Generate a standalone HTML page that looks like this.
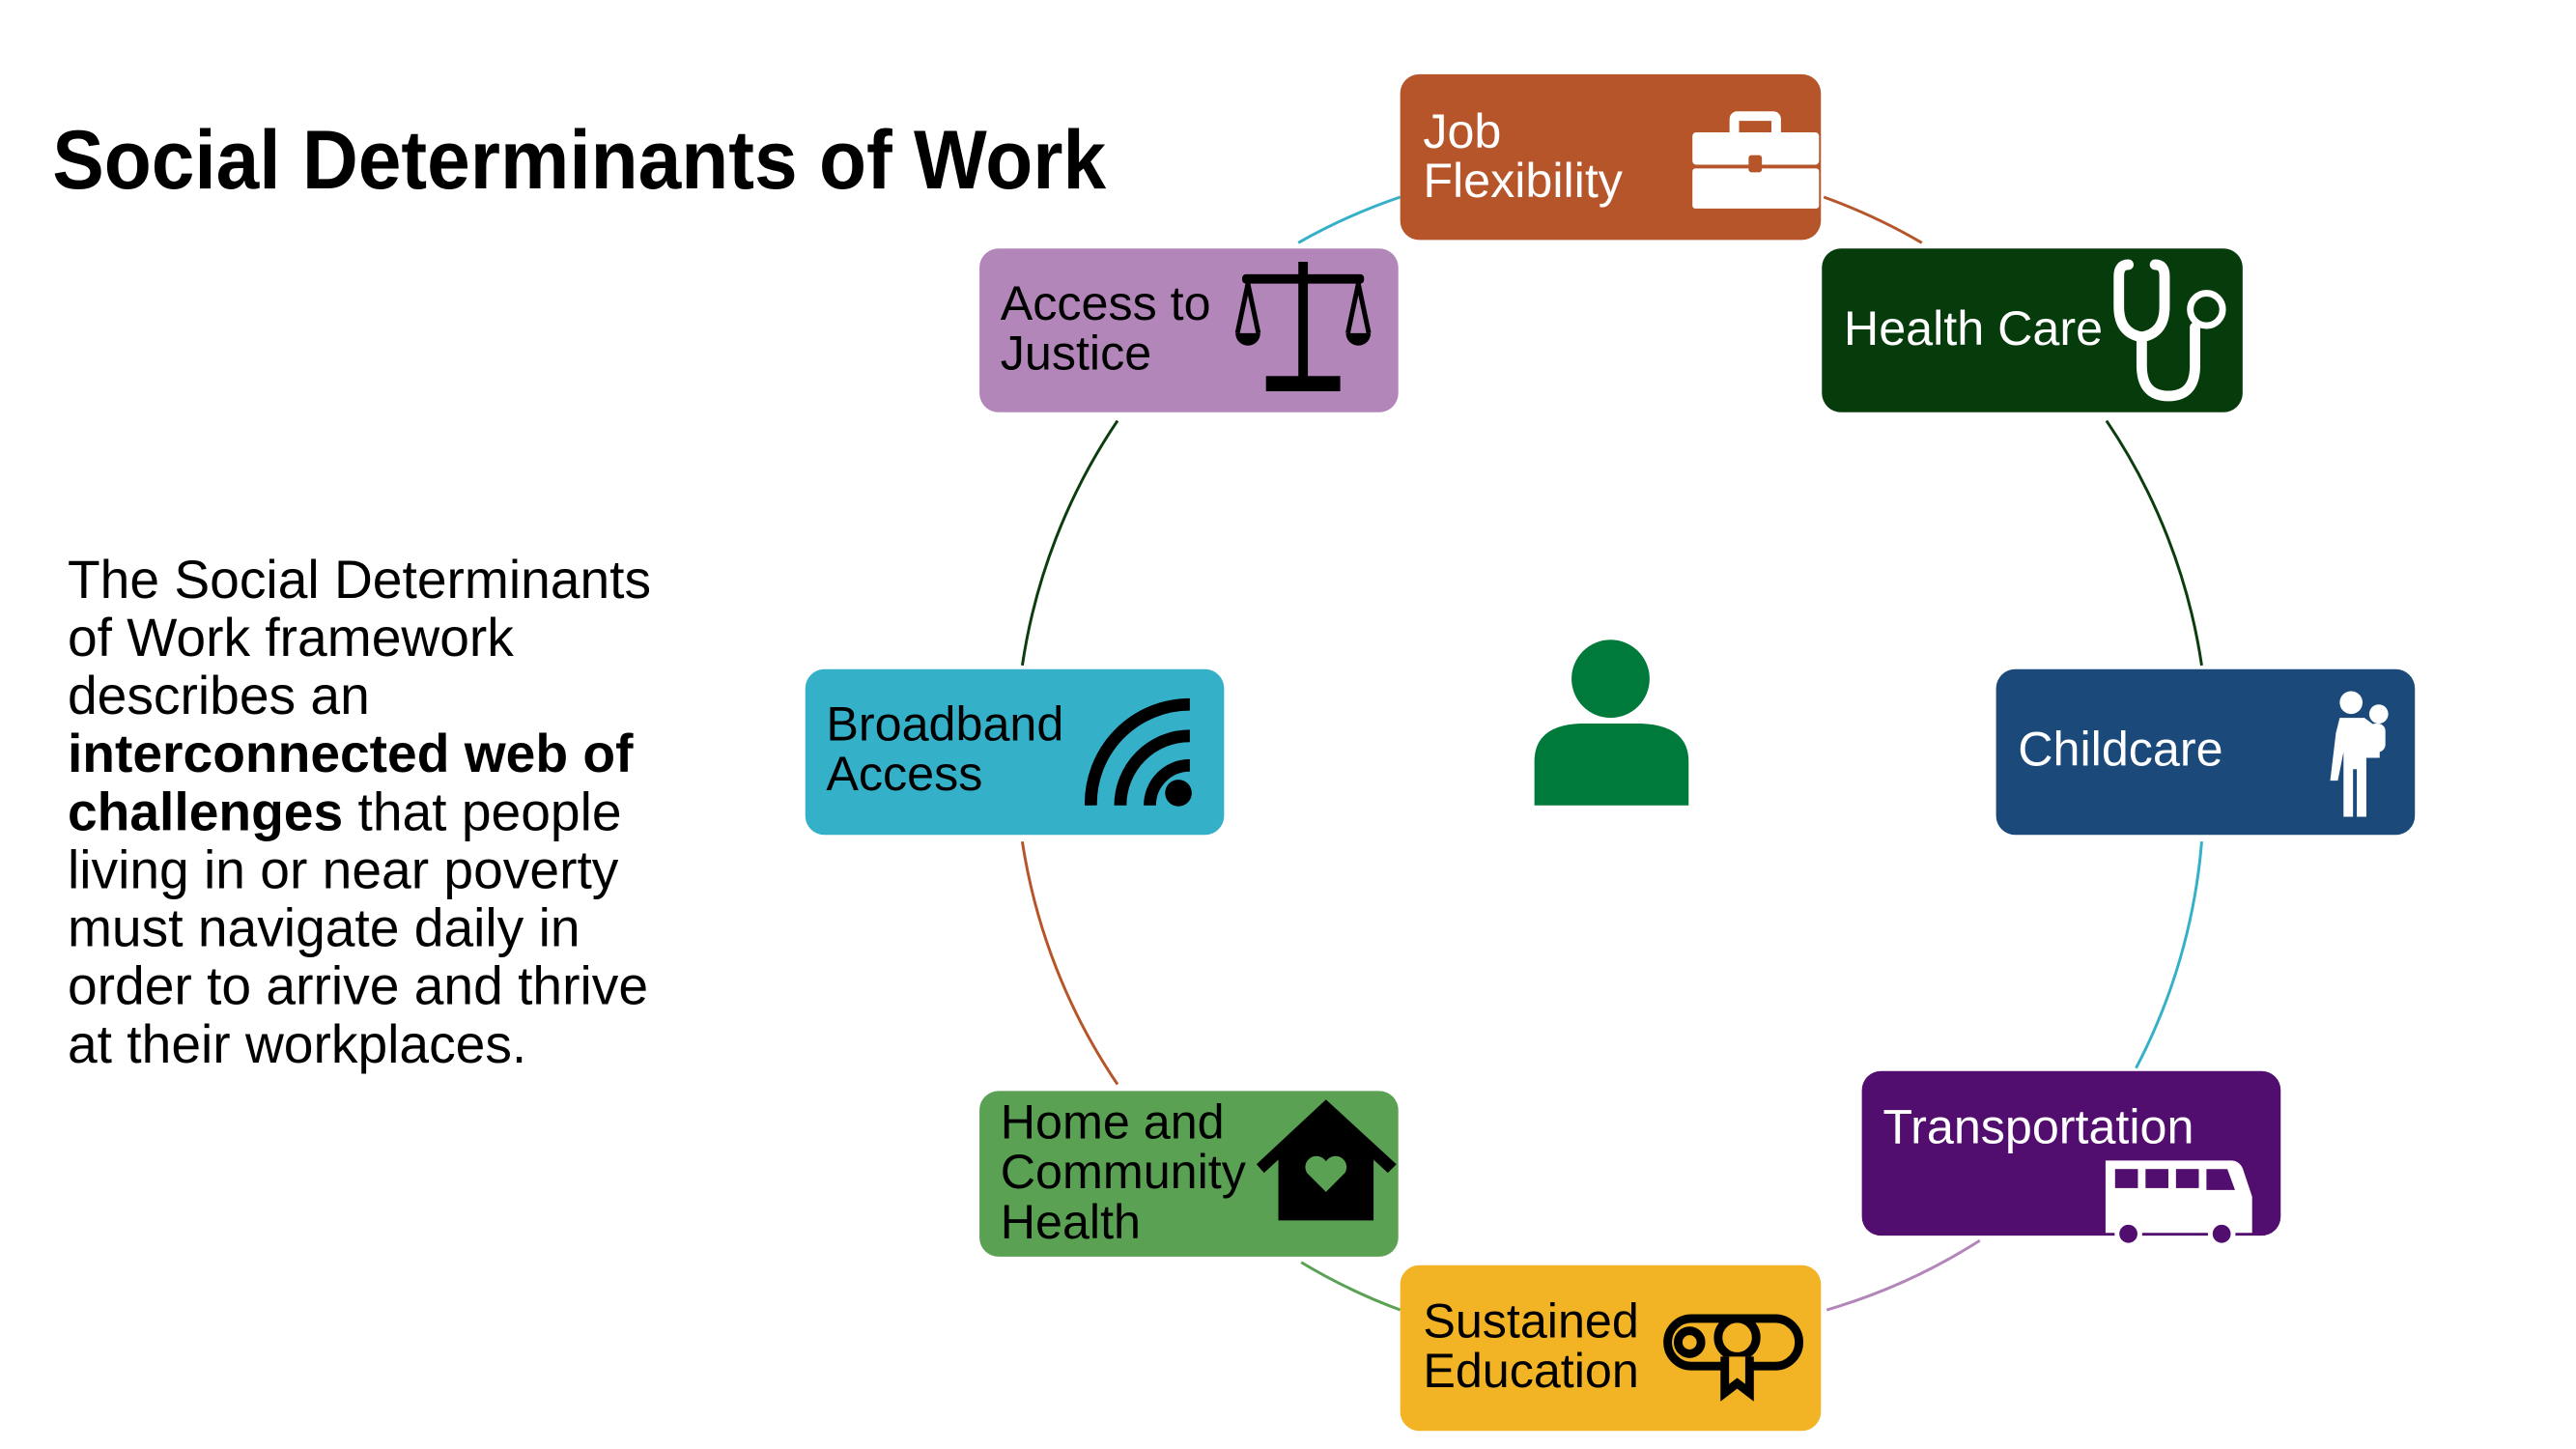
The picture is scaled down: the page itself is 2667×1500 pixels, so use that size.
<!DOCTYPE html>
<html><head><meta charset="utf-8"><style>
html,body{margin:0;padding:0;background:#fff;}
svg{display:block;}
text{font-family:"Liberation Sans",Arial,sans-serif;}
</style></head><body>
<svg width="2667" height="1500" viewBox="0 0 2667 1500" xmlns="http://www.w3.org/2000/svg">
<g transform="scale(0.9855)">
<text x="55" y="198" font-size="88" font-weight="bold" fill="#000" textLength="1107" lengthAdjust="spacingAndGlyphs">Social Determinants of Work</text>
<g font-size="56" fill="#000">
<text x="71" y="628">The Social Determinants</text>
<text x="71" y="689">of Work framework</text>
<text x="71" y="750">describes an</text>
<text x="71" y="811" font-weight="bold">interconnected web of</text>
<text x="71" y="872"><tspan font-weight="bold">challenges</tspan> that people</text>
<text x="71" y="933">living in or near poverty</text>
<text x="71" y="994">must navigate daily in</text>
<text x="71" y="1055">order to arrive and thrive</text>
<text x="71" y="1116">at their workplaces.</text>
</g>
<g fill="none" stroke-width="3">
<path d="M1364 255 A620 620 0 0 1 1471 207" stroke="#35B0C9"/>
<path d="M1916 207 A620 620 0 0 1 2019 255" stroke="#B7552A"/>
<path d="M2213 442 A620 620 0 0 1 2313 699" stroke="#0B3D0E"/>
<path d="M2313 884 A620 620 0 0 1 2244 1122" stroke="#35B0C9"/>
<path d="M2080 1303 A620 620 0 0 1 1919 1376" stroke="#B386BA"/>
<path d="M1471 1376 A620 620 0 0 1 1367 1326" stroke="#5AA154"/>
<path d="M1174 1139 A620 620 0 0 1 1074 884" stroke="#B7552A"/>
<path d="M1074 699 A620 620 0 0 1 1174 442" stroke="#0B3D0E"/>
</g>
<circle cx="1692" cy="713" r="41" fill="#007A3A"/>
<path d="M1612 846 L1612 800 Q1612 762 1660 760 L1724 760 Q1774 762 1774 800 L1774 846 Z" fill="#007A3A"/>
<rect x="1471" y="78" width="442" height="174" rx="20" fill="#B7552A"/>
<rect x="1029" y="261" width="440" height="172" rx="20" fill="#B386BA"/>
<rect x="1914" y="261" width="442" height="172" rx="20" fill="#063B0C"/>
<rect x="846" y="703" width="440" height="174" rx="20" fill="#35B0C9"/>
<rect x="2097" y="703" width="440" height="174" rx="20" fill="#1B4A7A"/>
<rect x="1029" y="1146" width="440" height="174" rx="20" fill="#5AA154"/>
<rect x="1956" y="1125" width="440" height="173" rx="20" fill="#520E6E"/>
<rect x="1471" y="1329" width="442" height="174" rx="20" fill="#F2B324"/>
<g font-size="51">
<text x="1495" y="155" fill="#fff">Job</text>
<text x="1495" y="207" fill="#fff">Flexibility</text>
<text x="1051" y="336" fill="#000">Access to</text>
<text x="1051" y="388" fill="#000">Justice</text>
<text x="1937" y="362" fill="#fff">Health Care</text>
<text x="868" y="778" fill="#000">Broadband</text>
<text x="868" y="830" fill="#000">Access</text>
<text x="2120" y="804" fill="#fff">Childcare</text>
<text x="1051" y="1196" fill="#000">Home and</text>
<text x="1051" y="1248" fill="#000">Community</text>
<text x="1051" y="1301" fill="#000">Health</text>
<text x="1978" y="1201" fill="#fff">Transportation</text>
<text x="1495" y="1405" fill="#000">Sustained</text>
<text x="1495" y="1457" fill="#000">Education</text>
</g>
<g fill="#fff">
<path d="M1825 117 h38 a8 8 0 0 1 8 8 v14 h-10 v-12 h-34 v12 h-10 v-14 a8 8 0 0 1 8 -8z"/>
<rect x="1778" y="139" width="133" height="34" rx="4"/>
<rect x="1778" y="177" width="133" height="42" rx="3"/>
</g>
<rect x="1837" y="163" width="14" height="18" rx="3" fill="#B7552A"/>
<g fill="#000" stroke="#000">
<rect x="1364" y="275" width="10" height="125" stroke="none"/>
<rect x="1305" y="288" width="128" height="10" rx="4" stroke="none"/>
<rect x="1330" y="395" width="78" height="16" stroke="none"/>
<path d="M1311 298 L1300 350 M1311 298 L1322 350 M1427 298 L1416 350 M1427 298 L1438 350" stroke-width="5" fill="none"/>
<path d="M1298 350 h26 a13 13 0 0 1 -26 0z M1414 350 h26 a13 13 0 0 1 -26 0z" stroke="none"/>
</g>
<g fill="none" stroke="#fff" stroke-width="11" stroke-linecap="round">
<path d="M2236 278 q-10 0 -10 12 v32 q0 28 24 32 q24 -4 24 -32 v-32 q0 -12 -10 -12"/>
<path d="M2250 354 v30 q0 32 28 32 q28 0 28 -32 v-40"/>
</g>
<circle cx="2318" cy="325" r="17" fill="none" stroke="#fff" stroke-width="7"/>
<g fill="none" stroke="#000" stroke-width="13">
<path d="M1146 846 A104 104 0 0 1 1250 740"/>
<path d="M1177 846 A73 73 0 0 1 1250 773"/>
<path d="M1208 846 A42 42 0 0 1 1250 804"/>
</g>
<circle cx="1238" cy="833" r="14" fill="#000"/>
<g fill="#fff">
<circle cx="2470" cy="738" r="12"/>
<circle cx="2499" cy="750" r="10"/>
<path d="M2458 754 h26 l16 12 v30 h-14 v62 h-10 v-50 h-4 v50 h-10 v-68 l-6 30 h-8 l6 -50z"/>
<rect x="2488" y="760" width="18" height="30" rx="8"/>
</g>
<g>
<path d="M1320 1223 L1393 1155 L1467 1223 L1458 1232 L1393 1172 L1328 1232Z" fill="#000"/>
<path d="M1343 1213 L1393 1168 L1443 1213 V1282 H1343Z" fill="#000"/>
<path d="M1393 1252 l-20 -20 a11 11 0 0 1 20 -12 a11 11 0 0 1 20 12z" fill="#5AA154"/>
</g>
<g>
<path d="M2212 1219 h132 q8 0 12 8 l10 30 v38 h-154z" fill="#fff"/>
<rect x="2222" y="1228" width="24" height="20" fill="#520E6E"/>
<rect x="2254" y="1228" width="24" height="20" fill="#520E6E"/>
<rect x="2286" y="1228" width="24" height="20" fill="#520E6E"/>
<path d="M2318 1228 h22 l8 22 h-30z" fill="#520E6E"/>
<circle cx="2236" cy="1296" r="12" fill="#520E6E" stroke="#fff" stroke-width="5"/>
<circle cx="2334" cy="1296" r="12" fill="#520E6E" stroke="#fff" stroke-width="5"/>
</g>
<g fill="none" stroke="#000" stroke-width="9">
<rect x="1752" y="1385" width="138" height="50" rx="25"/>
<circle cx="1775" cy="1410" r="12"/>
<circle cx="1825" cy="1405" r="20" fill="#F2B324"/>
<path d="M1812 1425 v38 l13 -10 l13 10 v-38" fill="#F2B324"/>
</g>
</g>
</svg>
</body></html>
